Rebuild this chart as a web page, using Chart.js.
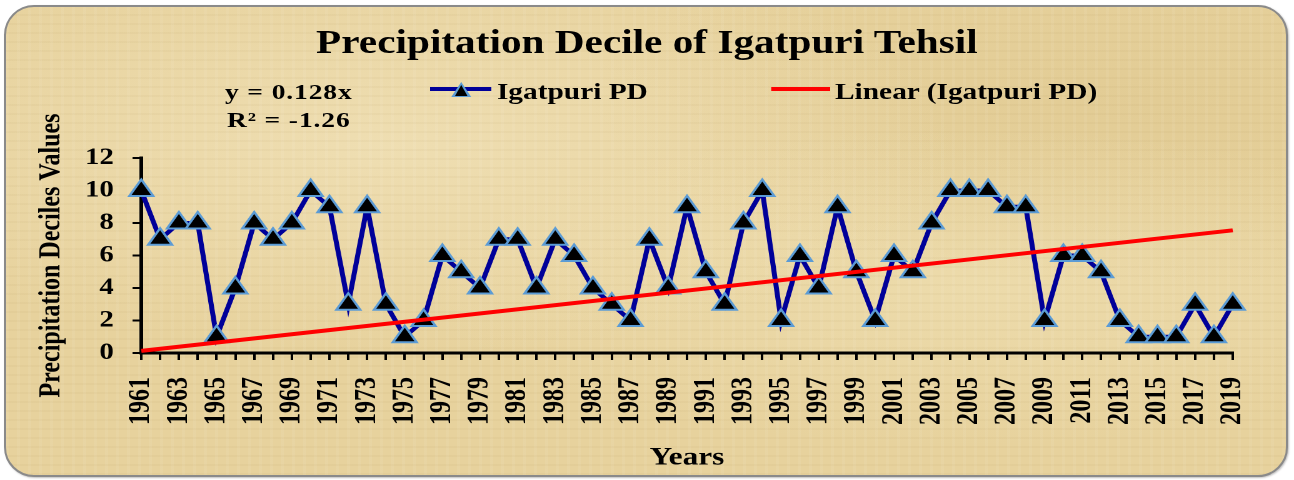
<!DOCTYPE html>
<html>
<head>
<meta charset="utf-8">
<script src="https://cdn.jsdelivr.net/npm/chart.js@4"></script>
<style>
  html, body { margin: 0; padding: 0; background: #ffffff; }
  #wrap { position: relative; width: 1294px; height: 480px; overflow: hidden; }
  .card {
    position: absolute; left: 4px; top: 5px; width: 1280px; height: 468px;
    border: 2px solid #8a8a8a; border-radius: 30px;
    background-color: #e7d29d;
    background-image:
      repeating-linear-gradient(90deg, rgba(255,255,255,0.06) 0 3px, rgba(0,0,0,0) 3px 11px),
      repeating-linear-gradient(0deg, rgba(150,120,60,0.05) 0 2px, rgba(0,0,0,0) 2px 9px),
      radial-gradient(ellipse at 30% 30%, rgba(245,232,195,0.55), rgba(0,0,0,0) 45%),
      radial-gradient(ellipse at 75% 60%, rgba(242,228,185,0.5), rgba(0,0,0,0) 40%),
      radial-gradient(ellipse at 90% 20%, rgba(215,190,130,0.3), rgba(0,0,0,0) 35%);
    box-shadow: 1px 1px 2px rgba(0,0,0,0.25);
  }
  canvas#chart { position: absolute; left: 0; top: 0; }
  #overlay { position: absolute; left: 0; top: 0; width: 1035px; height: 480px; transform: scaleX(1.25); transform-origin: 0 0; }
  .txt { position: absolute; font-family: "Liberation Serif", "Times New Roman", serif; font-weight: bold; color: #000; white-space: nowrap; }
  #title { left: 0; width: 1035px; top: 22px; text-align: center; font-size: 33px; line-height: 40px; }
  #eq { left: 131px; width: 200px; top: 78px; text-align: center; font-size: 22px; line-height: 28px; letter-spacing: 0.7px; }
  .leg { top: 77px; font-size: 23.5px; line-height: 28px; }
  .legline { position: absolute; height: 4px; }
  .tri { position: absolute; width: 0; height: 0; }
</style>
</head>
<body>
<div id="wrap">
  <div class="card"></div>
  <!-- chart is laid out 1035px wide and shown stretched to 1294px, like the source image -->
  <canvas id="chart" width="1035" height="480" style="width:1294px;height:480px;"></canvas>
  <div id="overlay">
    <div id="title" class="txt">Precipitation Decile of Igatpuri Tehsil</div>
    <div id="eq" class="txt">y = 0.128x<br>R² = -1.26</div>
    <div class="legline" style="left:344px; top:87px; width:49px; background:#000099;"></div>
    <div class="tri" style="left:361px; top:82px; border-left:8px solid transparent; border-right:8px solid transparent; border-bottom:15px solid #5b9bd5;"></div>
    <div class="tri" style="left:363.5px; top:85px; border-left:5.5px solid transparent; border-right:5.5px solid transparent; border-bottom:11px solid #000;"></div>
    <div class="txt leg" style="left:397.5px;">Igatpuri PD</div>
    <div class="legline" style="left:617px; top:87px; width:47px; background:#ff0000;"></div>
    <div class="txt leg" style="left:668px;">Linear (Igatpuri PD)</div>
  </div>
</div>
<script>
const years = [
  '1961', '1962', '1963', '1964', '1965', '1966', '1967', '1968', '1969', '1970',
  '1971', '1972', '1973', '1974', '1975', '1976', '1977', '1978', '1979', '1980',
  '1981', '1982', '1983', '1984', '1985', '1986', '1987', '1988', '1989', '1990',
  '1991', '1992', '1993', '1994', '1995', '1996', '1997', '1998', '1999', '2000',
  '2001', '2002', '2003', '2004', '2005', '2006', '2007', '2008', '2009', '2010',
  '2011', '2012', '2013', '2014', '2015', '2016', '2017', '2018', '2019'
];

// decile per year
const igatpuriPD = [
  10, 7, 8, 8, 1, 4, 8, 7, 8, 10,
  9, 3, 9, 3, 1, 2, 6, 5, 4, 7,
  7, 4, 7, 6, 4, 3, 2, 7, 4, 9,
  5, 3, 8, 10, 2, 6, 4, 9, 5, 2,
  6, 5, 8, 10, 10, 10, 9, 9, 2, 6,
  6, 5, 2, 1, 1, 1, 3, 1, 3
];

// linear trend ends (y = 0.128x)
const trendStart = 0.13;
const trendEnd = 7.55;

const yTicks = [0, 2, 4, 6, 8, 10, 12];

const FONT = '"Liberation Serif", "Times New Roman", serif';

const trend = years.map((_, i) => {
  if (i === 0) return trendStart;
  if (i === years.length - 1) return trendEnd;
  return null;
});

new Chart(document.getElementById('chart'), {
  type: 'line',
  data: {
    labels: years,
    datasets: [
      {
        label: 'Linear (Igatpuri PD)',
        data: trend,
        spanGaps: true,
        borderColor: '#ff0000',
        borderWidth: 4,
        pointRadius: 0,
        order: 0
      },
      {
        label: 'Igatpuri PD',
        data: igatpuriPD,
        borderColor: '#000099',
        borderWidth: 4,
        tension: 0,
        pointStyle: 'triangle',
        pointRadius: 11,
        pointBackgroundColor: '#000000',
        pointBorderColor: '#5b9bd5',
        pointBorderWidth: 2,
        order: 1
      }
    ]
  },
  options: {
    responsive: false,
    animation: false,
    devicePixelRatio: 2,
    layout: { padding: { left: 27, right: 49, top: 158, bottom: 4 } },
    plugins: {
      legend: { display: false },
      tooltip: { enabled: false }
    },
    scales: {
      x: {
        offset: false,
        afterFit: (s) => { s.height = 480 - 353 - 4; },
        border: { display: true, color: '#000', width: 3 },
        grid: { display: true, drawOnChartArea: false, drawTicks: true, tickLength: 7, color: '#000', lineWidth: 2 },
        ticks: {
          autoSkip: false,
          maxRotation: 90,
          minRotation: 90,
          padding: 17,
          color: '#000',
          font: { family: FONT, size: 24, weight: 'bold' },
          callback: (v, i) => (i % 2 === 0 ? years[i] : '')
        },
        title: {
          display: true,
          text: 'Years',
          color: '#000',
          padding: { top: 0, bottom: 3 },
          font: { family: FONT, size: 25, weight: 'bold' }
        }
      },
      y: {
        min: 0,
        max: 12,
        afterFit: (s) => { s.width = 113 - 27; },
        afterBuildTicks: (s) => { s.ticks = yTicks.map(v => ({ value: v })); },
        border: { display: true, color: '#000', width: 3 },
        grid: { display: true, drawOnChartArea: false, drawTicks: true, tickLength: 7, color: '#000', lineWidth: 2 },
        ticks: {
          padding: 15,
          color: '#000',
          font: { family: FONT, size: 23, weight: 'bold' }
        },
        title: {
          display: true,
          text: 'Precipitation Deciles Values',
          color: '#000',
          padding: { top: 0, bottom: 0 },
          font: { family: FONT, size: 24, weight: 'bold' }
        }
      }
    }
  }
});
</script>
</body>
</html>
